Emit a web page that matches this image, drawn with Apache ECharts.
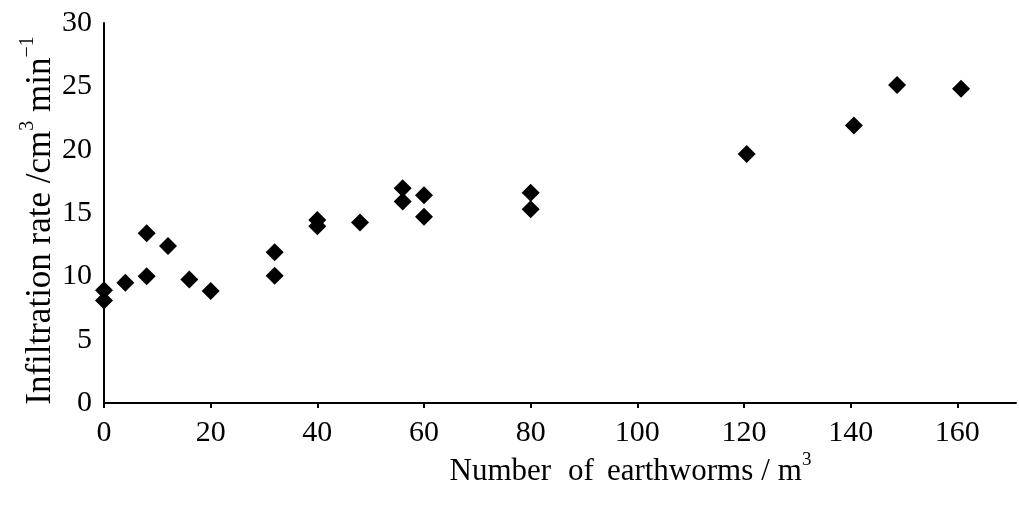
<!DOCTYPE html>
<html>
<head>
<meta charset="utf-8">
<script src="https://cdn.jsdelivr.net/npm/echarts@6/dist/echarts.min.js"></script>
<style>
html,body{margin:0;padding:0;background:#fff;}
#chart{width:1019px;height:505px;}
</style>
</head>
<body>
<div id="chart"></div>
<script>
// Number of earthworms per m3
const earthworms = [0, 0, 4, 8, 8, 12, 16, 20, 32, 32, 40, 40, 48, 56, 56, 60, 60, 80, 80, 120.5, 140.6, 148.7, 160.7];
// Infiltration rate cm3/min
const infiltration = [8.9, 8.1, 9.5, 10.0, 13.4, 12.4, 9.75, 8.85, 10.05, 11.9, 14.45, 13.95, 14.25, 16.95, 15.9, 16.4, 14.7, 16.6, 15.3, 19.65, 21.9, 25.1, 24.8];
const xTicks = [0, 20, 40, 60, 80, 100, 120, 140, 160];
const yTicks = [0, 5, 10, 15, 20, 25, 30];

const points = earthworms.map((x, i) => [x, infiltration[i]]);
const FONT = 'Liberation Serif';

const chart = echarts.init(document.getElementById('chart'), null, {renderer: 'canvas'});
chart.setOption({
  animation: false,
  backgroundColor: '#ffffff',
  grid: {left: 104, right: 3, top: 23, bottom: 102, containLabel: false},
  xAxis: {
    type: 'value',
    min: 0, max: 171, interval: 20,
    axisLine: {show: true, onZero: false, lineStyle: {color: '#000', width: 2}},
    axisTick: {show: true, inside: false, length: 5, lineStyle: {color: '#000', width: 2},
      customValues: xTicks},
    axisLabel: {color: '#000', fontFamily: FONT, fontSize: 30, margin: 15,
      customValues: xTicks},
    splitLine: {show: false},
    name: '{n|Number}{g1| }{n|of}{g2| }{n|earthworms}{g3| }{n|/}{g3| }{n|m}{s|3}',
    nameLocation: 'middle',
    nameGap: 48,
    nameMoveOverlap: false,
    nameTextStyle: {
      padding: [0, 0, 0, 141],
      rich: {
        n: {fontFamily: FONT, fontSize: 31, color: '#000', lineHeight: 36, verticalAlign: 'bottom'},
        g1: {fontFamily: FONT, fontSize: 31, lineHeight: 36, width: 17},
        g2: {fontFamily: FONT, fontSize: 31, lineHeight: 36, width: 13},
        g3: {fontFamily: FONT, fontSize: 31, lineHeight: 36, width: 8},
        s: {fontFamily: FONT, fontSize: 19, color: '#000', lineHeight: 19, verticalAlign: 'top'}
      }
    }
  },
  yAxis: {
    type: 'value',
    min: 0, max: 30, interval: 5,
    axisLine: {show: true, onZero: false, lineStyle: {color: '#000', width: 2}},
    axisTick: {show: false},
    axisLabel: {color: '#000', fontFamily: FONT, fontSize: 30, margin: 12,
      customValues: yTicks},
    splitLine: {show: false},
    name: '{n|Infiltration rate /cm}{s|3}{n| min}{s|\u22121}',
    nameLocation: 'middle',
    nameGap: 46,
    nameRotate: 90,
    nameMoveOverlap: false,
    nameTextStyle: {
      padding: [0, 15, 0, 0],
      rich: {
        n: {fontFamily: FONT, fontSize: 35, color: '#000', lineHeight: 40, verticalAlign: 'bottom'},
        s: {fontFamily: FONT, fontSize: 20, color: '#000', lineHeight: 20, verticalAlign: 'top'}
      }
    }
  },
  series: [{
    type: 'scatter',
    data: points,
    symbol: 'diamond',
    symbolSize: 18,
    itemStyle: {color: '#000', opacity: 1}
  }]
});
</script>
</body>
</html>
